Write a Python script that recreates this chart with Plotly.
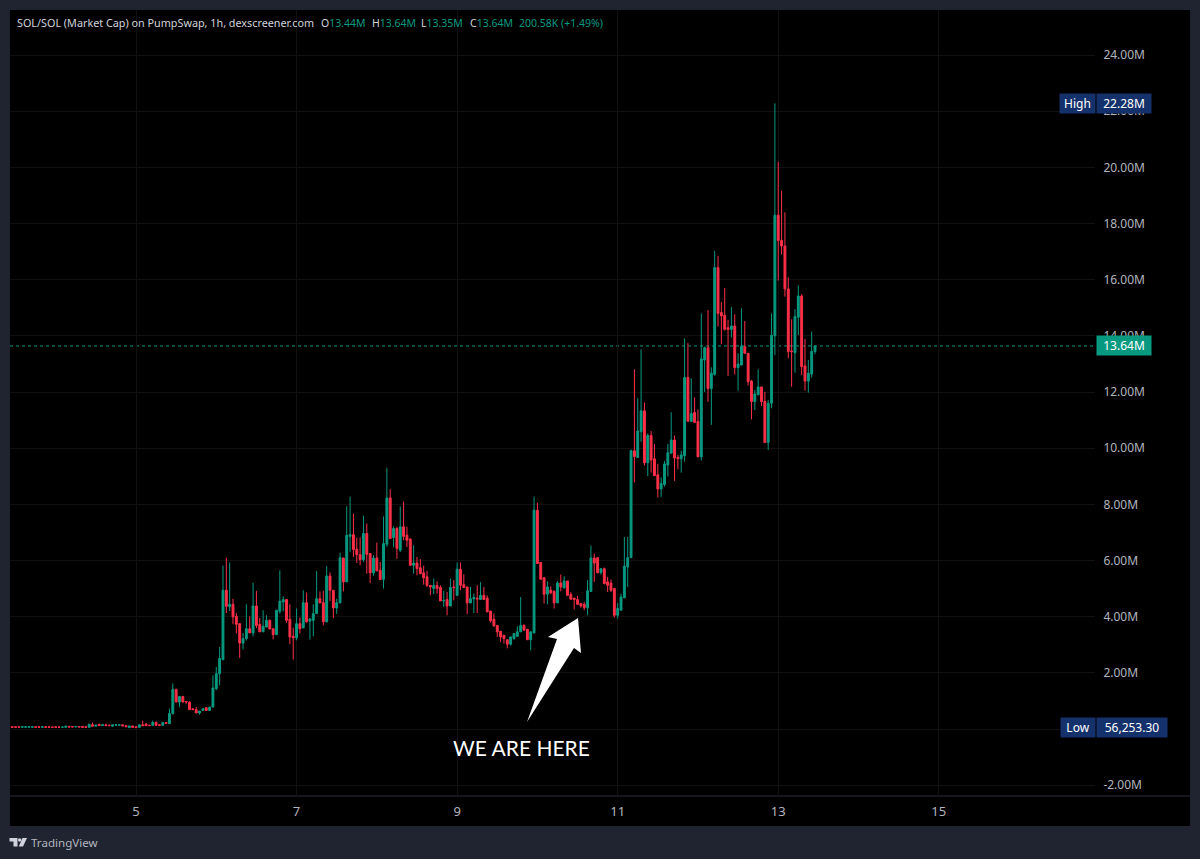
import pandas as pd
import plotly.graph_objects as go

W, H = 1200, 859

# prices in millions, one candle per hour
opens = [
    .08, .08, .08, .08, .06, .06, .06, .06, .08, .08,
    .06, .08, .08, .07, .08, .07, .06, .06, .09, .09,
    .07, .09, .09, .08, .06, .15, .10, .17, .12, .15,
    .14, .10, .13, .13, .15, .12, .05, .11, .08, .06,
    .15, .18, .14, .13, .24, .15, .13, .23, .19, .55,
    1.41, .96, 1.16, .98, .96, .72, .69, .57, .66, .76,
    .66, .78, 1.44, 1.97, 2.47, 4.94, 4.35, 4.44, 4.01, 3.75,
    3.06, 3.22, 3.57, 3.42, 4.38, 3.72, 3.46, 3.63, 3.87, 3.57,
    3.36, 4.19, 4.52, 4.61, 3.91, 3.30, 3.25, 3.75, 3.60, 4.50,
    3.84, 3.87, 4.11, 4.64, 4.50, 3.81, 5.45, 4.94, 4.31, 4.49,
    6.09, 5.24, 6.86, 6.92, 6.40, 6.21, 6.03, 6.96, 6.25, 5.56,
    6.09, 5.65, 5.33, 6.58, 8.23, 6.82, 7.14, 6.37, 7.20, 6.90,
    6.77, 5.83, 5.91, 5.74, 5.56, 5.42, 5.11, 5.00, 5.11, 5.04,
    4.56, 4.61, 4.38, 5.06, 4.76, 5.69, 5.14, 5.06, 4.49, 4.63,
    4.66, 4.61, 4.76, 4.66, 4.20, 3.91, 3.69, 3.48, 3.34, 3.18,
    3.02, 3.22, 3.30, 3.46, 3.69, 3.55, 3.18, 3.42, 7.79, 5.93,
    5.39, 4.80, 4.94, 4.90, 4.49, 5.20, 5.02, 5.27, 4.79, 4.66,
    4.61, 4.47, 4.44, 4.32, 4.90, 6.09, 6.10, 5.57, 5.71, 5.24,
    5.20, 5.00, 4.05, 4.23, 4.67, 5.77, 6.10, 9.91, 9.67, 10.59,
    11.33, 9.48, 10.45, 9.62, 9.05, 8.55, 8.71, 9.40, 9.82, 10.29,
    9.67, 9.62, 9.73, 12.52, 10.95, 11.27, 10.95, 9.69, 13.14, 13.58,
    12.13, 12.63, 16.43, 14.83, 14.73, 14.29, 14.23, 14.35, 12.87, 12.96,
    13.62, 13.38, 12.39, 11.66, 11.90, 12.18, 11.67, 10.20, 11.60, 14.00,
    18.30, 17.40, 17.20, 15.67, 13.46, 13.40, 14.66, 15.42, 12.93, 12.39,
    12.64, 13.44,
]
highs = [
    .08, .08, .08, .08, .08, .08, .08, .08, .08, .08,
    .08, .08, .08, .08, .08, .09, .07, .11, .09, .10,
    .10, .10, .09, .08, .17, .23, .14, .17, .15, .19,
    .15, .15, .15, .15, .15, .12, .11, .11, .08, .15,
    .30, .18, .14, .30, .26, .16, .23, .23, .72, 1.62,
    1.44, 1.16, 1.16, 1.00, .98, .72, .78, .64, .73, .77,
    .78, 1.91, 2.21, 2.92, 5.82, 6.10, 5.93, 4.64, 4.13, 3.75,
    3.42, 4.44, 4.01, 5.21, 4.92, 3.95, 4.23, 4.05, 3.90, 3.57,
    4.23, 5.65, 4.73, 4.61, 4.44, 3.61, 4.29, 3.97, 4.94, 4.86,
    3.95, 4.44, 5.62, 4.90, 4.92, 5.80, 5.58, 4.94, 4.64, 6.28,
    6.09, 7.93, 8.27, 7.67, 6.81, 6.82, 7.60, 7.32, 6.25, 6.19,
    6.64, 5.95, 7.57, 9.30, 8.54, 7.22, 7.20, 7.93, 8.10, 7.20,
    6.78, 6.54, 6.13, 6.05, 5.82, 5.63, 5.11, 5.36, 5.26, 5.12,
    4.92, 4.88, 5.36, 5.30, 5.93, 5.93, 5.51, 5.06, 5.06, 4.82,
    5.12, 5.23, 5.06, 4.76, 4.20, 4.11, 3.69, 3.48, 3.34, 3.18,
    3.28, 3.40, 3.66, 4.70, 3.73, 3.55, 3.46, 8.27, 8.06, 5.93,
    5.39, 5.26, 5.08, 4.94, 5.26, 5.50, 5.44, 5.27, 4.88, 4.66,
    4.74, 4.47, 4.52, 5.30, 6.53, 6.25, 6.10, 5.71, 5.75, 5.42,
    5.32, 5.00, 4.49, 4.82, 6.84, 6.84, 9.95, 12.81, 11.78, 13.52,
    11.63, 10.53, 10.61, 10.15, 9.44, 8.96, 9.54, 10.15, 11.28, 10.45,
    9.76, 9.91, 13.91, 13.74, 12.49, 11.81, 11.38, 14.80, 13.62, 14.92,
    12.88, 17.03, 16.85, 15.20, 15.70, 14.57, 15.02, 14.77, 13.38, 14.98,
    14.53, 13.38, 12.43, 12.07, 12.81, 12.18, 12.01, 11.72, 14.80, 22.28,
    20.20, 19.17, 18.40, 16.09, 14.59, 14.95, 15.79, 15.48, 13.89, 13.14,
    14.15, 13.64,
]
lows = [
    .06, .06, .06, .06, .06, .06, .06, .06, .06, .06,
    .06, .06, .06, .06, .06, .056, .056, .06, .07, .07,
    .07, .07, .06, .06, .06, .10, .10, .12, .12, .12,
    .12, .09, .13, .13, .11, .08, .05, .05, .05, .06,
    .12, .12, .12, .13, .13, .13, .13, .19, .18, .52,
    .96, .78, .96, .90, .69, .69, .57, .51, .66, .66,
    .66, .78, 1.38, 1.56, 2.45, 4.13, 4.20, 3.73, 3.40, 2.53,
    2.83, 3.15, 3.42, 3.30, 3.60, 3.46, 3.46, 3.63, 3.56, 3.19,
    3.36, 4.11, 4.19, 3.78, 3.02, 2.47, 3.16, 3.40, 3.60, 3.79,
    3.19, 3.30, 4.11, 4.49, 3.69, 3.81, 4.56, 3.95, 4.10, 4.49,
    4.90, 5.24, 6.31, 6.13, 5.91, 5.83, 5.95, 5.53, 5.20, 5.46,
    5.63, 5.32, 5.00, 6.48, 6.78, 6.48, 6.06, 6.30, 6.72, 6.48,
    5.83, 5.53, 5.47, 5.53, 5.14, 5.06, 4.76, 4.80, 4.82, 4.56,
    4.35, 4.05, 4.38, 4.58, 4.76, 4.94, 5.04, 4.09, 4.49, 4.13,
    4.13, 4.61, 4.61, 4.17, 3.79, 3.65, 3.28, 3.10, 3.04, 2.87,
    2.97, 3.18, 3.30, 3.46, 3.52, 3.18, 2.80, 3.42, 5.89, 5.33,
    4.47, 4.44, 4.80, 4.29, 4.49, 4.90, 5.02, 4.76, 4.62, 4.26,
    4.44, 4.32, 4.23, 4.05, 4.90, 5.24, 5.56, 5.50, 5.15, 4.88,
    4.88, 3.97, 3.93, 4.23, 4.67, 5.06, 6.10, 8.78, 9.67, 10.23,
    9.38, 9.01, 9.13, 9.02, 8.24, 8.27, 8.63, 8.99, 9.82, 8.84,
    9.25, 9.13, 9.52, 10.96, 10.95, 10.92, 9.69, 9.56, 12.00, 11.65,
    10.83, 12.58, 14.33, 13.70, 14.19, 12.57, 13.94, 12.63, 12.05, 12.96,
    13.38, 12.23, 11.03, 11.36, 11.90, 11.50, 10.20, 9.94, 11.42, 13.32,
    15.97, 16.90, 15.40, 13.20, 12.19, 12.69, 14.03, 12.61, 12.05, 11.98,
    12.52, 13.35,
]
closes = [
    .06, .06, .06, .06, .08, .08, .08, .08, .06, .06,
    .08, .06, .06, .06, .06, .06, .07, .10, .07, .07,
    .09, .07, .06, .06, .17, .10, .14, .12, .15, .12,
    .12, .15, .15, .15, .11, .08, .11, .06, .05, .15,
    .12, .12, .12, .23, .13, .13, .23, .20, .55, 1.41,
    .96, 1.16, .96, .96, .69, .69, .57, .64, .72, .66,
    .78, 1.46, 1.97, 2.51, 4.94, 4.37, 4.44, 3.99, 3.73, 3.06,
    3.22, 3.57, 3.42, 4.38, 3.69, 3.46, 3.66, 3.87, 3.56, 3.36,
    4.23, 4.55, 4.61, 3.87, 3.28, 3.25, 3.75, 3.57, 4.50, 3.82,
    3.92, 4.11, 4.64, 4.49, 3.82, 5.45, 4.94, 4.31, 4.50, 6.10,
    5.24, 6.90, 6.92, 6.39, 6.21, 6.03, 6.96, 6.22, 5.56, 6.09,
    5.63, 5.32, 6.60, 8.23, 6.78, 7.14, 6.43, 7.20, 6.86, 6.72,
    5.83, 5.91, 5.71, 5.53, 5.39, 5.11, 5.06, 5.11, 5.00, 4.56,
    4.58, 4.38, 5.04, 5.04, 5.69, 5.12, 5.04, 4.49, 4.64, 4.68,
    4.63, 4.76, 4.61, 4.17, 3.85, 3.67, 3.46, 3.28, 3.22, 3.02,
    3.28, 3.40, 3.46, 3.69, 3.52, 3.18, 3.46, 7.79, 5.89, 5.33,
    4.80, 5.06, 4.85, 4.49, 5.20, 5.06, 5.27, 4.76, 4.62, 4.61,
    4.44, 4.38, 4.32, 4.92, 6.09, 5.91, 5.56, 5.71, 5.18, 5.12,
    4.94, 4.05, 4.29, 4.70, 5.80, 6.10, 9.91, 9.70, 10.61, 11.33,
    9.48, 10.45, 9.58, 9.02, 8.55, 8.74, 9.44, 9.84, 10.29, 9.65,
    9.63, 9.76, 12.52, 10.96, 11.24, 10.92, 9.69, 13.18, 13.58, 12.13,
    12.67, 16.43, 14.80, 14.71, 14.23, 14.23, 14.35, 12.87, 13.00, 13.64,
    13.38, 12.37, 11.66, 11.93, 12.18, 11.66, 10.20, 11.60, 14.02, 18.30,
    17.40, 17.20, 15.67, 13.44, 13.44, 14.69, 15.42, 12.90, 12.39, 12.67,
    13.45, 13.64,
]

y_ticks = [-2, 0, 2, 4, 6, 8, 10, 12, 14, 16, 18, 20, 22, 24]
y_labels = ["-2.00M", "", "2.00M", "4.00M", "6.00M", "8.00M", "10.00M", "12.00M",
            "14.00M", "16.00M", "18.00M", "20.00M", "22.00M", "24.00M"]
x_days = ["2025-07-05", "2025-07-07", "2025-07-09", "2025-07-11", "2025-07-13", "2025-07-15"]
x_labels = ["5", "7", "9", "11", "13", "15"]

last_price = 13.64
high_price = 22.28
low_price = 0.05625

GREEN = "#089981"
RED = "#FB3049"
FRAME = "#1F2430"
BADGE = "#14316B"
TEXT = "#B2B5BE"
GRID = "#111111"
LABEL = "#D1D4DC"
FONT = "Noto Sans"

times = pd.date_range("2025-07-03 10:00", periods=len(closes), freq="h")
day5 = pd.Timestamp(x_days[0])


def px(x):
    return x / W


def py(y):
    return 1 - y / H


def poly(points):
    return "M" + " L".join(f"{px(x):.5f},{py(y):.5f}" for x, y in points) + " Z"


fig = go.Figure()
fig.add_trace(go.Candlestick(
    x=times, open=opens, high=highs, low=lows, close=closes,
    increasing=dict(line=dict(color=GREEN, width=1), fillcolor=GREEN),
    decreasing=dict(line=dict(color=RED, width=1), fillcolor=RED),
    whiskerwidth=0, hoverinfo="skip", showlegend=False,
))

# black panes inside the dark frame
fig.add_shape(type="rect", xref="paper", yref="paper", layer="below",
              x0=px(10), x1=px(1190), y0=py(826), y1=py(10),
              fillcolor="#000000", line_width=0)
fig.add_shape(type="line", xref="paper", yref="paper", layer="below",
              x0=px(10), x1=px(1190), y0=py(796), y1=py(796),
              line=dict(color="#2A2E39", width=1))
fig.add_shape(type="line", xref="paper", yref="y", layer="below",
              x0=px(10), x1=px(1095), y0=last_price, y1=last_price,
              line=dict(color=GREEN, width=1, dash="dot"))

# arrow
fig.add_shape(type="path", xref="paper", yref="paper", line_width=0, fillcolor="#FFFFFF",
              path=poly([(578, 618), (581, 653), (574, 648), (527, 722), (557, 639), (548, 637)]))

# TradingView logo
fig.add_shape(type="path", xref="paper", yref="paper", line_width=0, fillcolor=LABEL,
              path=poly([(9.5, 838), (17.5, 838), (17.5, 846.5), (13.5, 846.5), (13.5, 841.5), (9.5, 841.5)]))
fig.add_shape(type="path", xref="paper", yref="paper", line_width=0, fillcolor=LABEL,
              path=poly([(22.5, 838), (27, 838), (23, 846.5), (18.8, 846.5)]))
fig.add_shape(type="circle", xref="paper", yref="paper", line_width=0, fillcolor=LABEL,
              x0=px(18), x1=px(21.4), y0=py(841.8), y1=py(838.2))


def label(x, y, text, size, color=LABEL, family=FONT, anchor="left"):
    fig.add_annotation(xref="paper", yref="paper", x=px(x), y=py(y), xanchor=anchor, yanchor="middle",
                       text=text, showarrow=False, font=dict(family=family, size=size, color=color))


label(15, 23, "SOL/SOL (Market Cap) on PumpSwap, 1h, dexscreener.com", 10.8)
for x, name, value in [(319, "O", "13.44M"), (370, "H", "13.64M"), (419, "L", "13.35M"), (468, "C", "13.64M")]:
    label(x, 23, f'{name}<span style="color:{GREEN}">{value}</span>', 10.5)
label(517, 23, "200.58K (+1.49%)", 10.5, GREEN)
label(521, 747, "WE ARE HERE", 21, "#FFFFFF", "Lato", "center")
label(29, 842, "TradingView", 11.6, TEXT)


def badge(y, text, left, right, color):
    # one coloured cell of a price label, centred on its price
    fig.add_annotation(xref="paper", yref="y", x=px(left), y=y, xanchor="left", yanchor="middle",
                       text=text, showarrow=False, width=right - left, height=15, align="center",
                       bgcolor=color, borderpad=2, font=dict(family=FONT, size=12, color="#FFFFFF"))


badge(high_price, "High", 1059, 1090, BADGE)
badge(high_price, "22.28M", 1096, 1146, BADGE)
badge(low_price, "Low", 1060, 1090, BADGE)
badge(low_price, "56,253.30", 1096, 1162, BADGE)
badge(last_price, "13.64M", 1096, 1146, GREEN)

fig.update_layout(
    width=W, height=H, autosize=False,
    margin=dict(l=0, r=0, t=0, b=0),
    paper_bgcolor=FRAME, plot_bgcolor="rgba(0,0,0,0)",
    boxgap=0.2,
    font=dict(family=FONT, color=TEXT),
    xaxis=dict(
        domain=[px(10), px(1095)], type="date",
        range=[day5 + pd.Timedelta(hours=-37.67), day5 + pd.Timedelta(hours=286.7)],
        rangeslider=dict(visible=False),
        tickvals=x_days, ticktext=x_labels,
        showgrid=True, gridcolor=GRID, gridwidth=1, zeroline=False, showline=False,
        ticks="outside", ticklen=3, tickcolor="rgba(0,0,0,0)",
        tickfont=dict(family=FONT, size=13, color=TEXT),
    ),
    yaxis=dict(
        domain=[py(796), py(10)], side="right",
        range=[-2.386, 25.605],
        tickvals=y_ticks, ticktext=y_labels,
        showgrid=True, gridcolor=GRID, gridwidth=1, zeroline=False, showline=False,
        ticks="outside", ticklen=5, tickcolor="rgba(0,0,0,0)",
        tickfont=dict(family=FONT, size=12, color=TEXT),
    ),
)

fig.write_html("out.html", config=dict(displayModeBar=False), post_script="document.body.style.margin='0';")
